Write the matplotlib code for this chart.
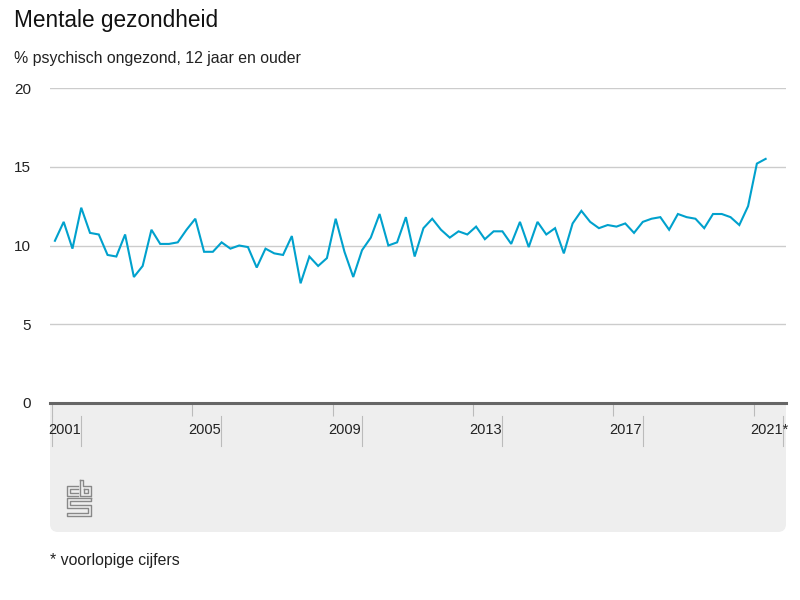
import matplotlib.pyplot as plt
from matplotlib.patches import FancyBboxPatch, Rectangle
import numpy as np

plt.rcParams['font.family'] = ['Liberation Sans', 'DejaVu Sans']

# kwartaalcijfers 2001 K1 t/m 2021 K2
start_year = 2001
values = [10.3, 11.5, 9.8, 12.4, 10.8, 10.7, 9.4, 9.3,
          10.7, 8.0, 8.7, 11.0, 10.1, 10.1, 10.2, 11.0,
          11.7, 9.6, 9.6, 10.2, 9.8, 10.0, 9.9, 8.6,
          9.8, 9.5, 9.4, 10.6, 7.6, 9.3, 8.7, 9.2,
          11.7, 9.6, 8.0, 9.7, 10.5, 12.0, 10.0, 10.2,
          11.8, 9.3, 11.1, 11.7, 11.0, 10.5, 10.9, 10.7,
          11.2, 10.4, 10.9, 10.9, 10.1, 11.5, 9.9, 11.5,
          10.7, 11.1, 9.5, 11.4, 12.2, 11.5, 11.1, 11.3,
          11.2, 11.4, 10.8, 11.5, 11.7, 11.8, 11.0, 12.0,
          11.8, 11.7, 11.1, 12.0, 12.0, 11.8, 11.3, 12.5,
          15.2, 15.5]
tick_years = [2001, 2005, 2009, 2013, 2017, 2021]
tick_labels = ['2001', '2005', '2009', '2013', '2017', '2021*']
y_ticks = [0, 5, 10, 15, 20]

t = start_year + np.arange(len(values)) / 4

fig = plt.figure(figsize=(8, 6), dpi=100)

def px(x, y):
    # pixel (y naar beneden) -> inches
    return x / 100, (600 - y) / 100

# grijs paneel onder de as
x0, y0 = px(50, 532)
panel = FancyBboxPatch((x0, y0), 7.36, 1.2, boxstyle='round,pad=0,rounding_size=0.08',
                       transform=fig.dpi_scale_trans, facecolor='#eeeeee',
                       edgecolor='none', zorder=-2)
fig.patches.append(panel)
fig.patches.append(Rectangle(px(50, 420), 7.36, 0.17, transform=fig.dpi_scale_trans,
                             facecolor='#eeeeee', edgecolor='none', zorder=-2))

ax = fig.add_axes([50 / 800, 1 - 403 / 600, 736 / 800, 315 / 600])
ax.patch.set_alpha(0)
ax.plot(t, values, color='#00a1cd', lw=1.5, zorder=3, solid_joinstyle='miter')

ax.set_ylim(0, 20)
ax.set_xlim(2000.86, 2021.83)
ax.set_yticks(y_ticks)
ax.set_yticklabels([str(v) for v in y_ticks])
ax.tick_params(axis='y', length=0, pad=13.5, labelsize=11, labelcolor='#222222')
for v in y_ticks[1:]:
    ax.axhline(v, color='#cccccc', lw=1, zorder=1)
ax.axhline(0, color='#666666', lw=2.2, zorder=4, clip_on=False)

# jaartikken net links van het jaarbegin
tick_pos = [yr - 0.085 for yr in tick_years]
ax.set_xticks(tick_pos)
ax.set_xticklabels([])
ax.tick_params(axis='x', length=9, width=0.8, color='#bbbbbb', direction='out')
for pos, lab in zip(tick_pos, tick_labels):
    ax.annotate(lab, (pos, 0), xycoords=('data', 'axes fraction'),
                xytext=(-4, -27), textcoords='offset pixels',
                ha='left', va='center', fontsize=10.5, color='#222222')
    ax.plot([pos + 0.83, pos + 0.83], [-0.041, -0.137], transform=ax.get_xaxis_transform(),
            color='#bbbbbb', lw=0.8, clip_on=False)
ax.plot([tick_pos[0]] * 2, [-0.041, -0.137], transform=ax.get_xaxis_transform(),
        color='#bbbbbb', lw=0.8, clip_on=False)

for s in ax.spines.values():
    s.set_visible(False)

# cbs-logo (vereenvoudigd)
logo = [
    [(78, 486), (67, 486), (67, 496), (78, 496)],
    [(78, 489), (70, 489), (70, 493), (78, 493)],
    [(80, 480), (80, 496), (91, 496), (91, 486), (83, 486), (83, 480), (80, 480)],
    [(84, 489), (88, 489), (88, 493), (84, 493), (84, 489)],
    [(91, 498), (67, 498), (67, 508), (88, 508), (88, 513), (67, 513), (67, 516), (91, 516),
     (91, 505), (70, 505), (70, 501), (91, 501), (91, 498)],
]
for path in logo:
    xs, ys = zip(*[px(x, y) for x, y in path])
    fig.add_artist(plt.Line2D(xs, ys, transform=fig.dpi_scale_trans, color='#888888', lw=1.0))

fig.text(14 / 800, 1 - 21 / 600, 'Mentale gezondheid', fontsize=16.3, va='center', color='#111111')
fig.text(14 / 800, 1 - 58 / 600, '% psychisch ongezond, 12 jaar en ouder', fontsize=11.4,
         va='center', color='#222222')
fig.text(50 / 800, 1 - 560 / 600, '* voorlopige cijfers', fontsize=11.4, va='center', color='#222222')

fig.savefig('out.png', dpi=100)
